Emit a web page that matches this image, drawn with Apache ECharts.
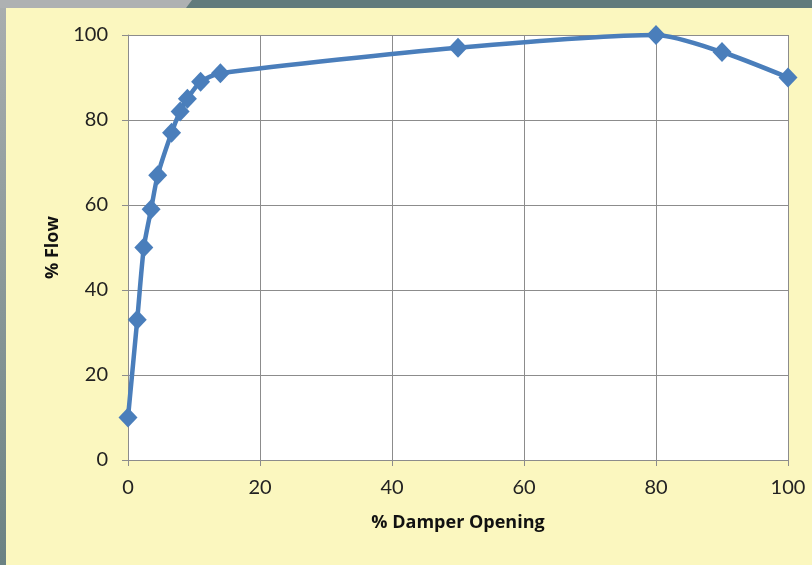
<!DOCTYPE html>
<html>
<head>
<meta charset="utf-8">
<script src="https://cdn.jsdelivr.net/npm/echarts@6/dist/echarts.min.js"></script>
<style>
  html, body { margin: 0; padding: 0; background: #FBF7BF; }
  #chart { width: 812px; height: 565px; }
</style>
</head>
<body>
<div id="chart"></div>
<script>
// Damper characteristic: flow vs. opening
const damperOpening = [0, 1.4, 2.4, 3.5, 4.5, 6.6, 7.9, 9.0, 11, 14, 50, 80, 90, 100];
const flowPercent   = [10, 33, 50, 59, 67, 77, 82, 85, 89, 91, 97, 100, 96, 90];
const xTicks = [0, 20, 40, 60, 80, 100];
const yTicks = [0, 20, 40, 60, 80, 100];

const points = damperOpening.map((x, i) => [x, flowPercent[i]]);
const labelFont = 'Lato, "Open Sans", sans-serif';
const titleFont = '"Open Sans", Lato, sans-serif';

const chart = echarts.init(document.getElementById('chart'));
chart.setOption({
  backgroundColor: '#FBF7BF',
  animation: false,
  graphic: [
    // window frame strips along the top and left edges
    { type: 'rect', shape: { x: 0, y: 0, width: 812, height: 8 }, style: { fill: '#617B7C' }, z: 10 },
    { type: 'polygon', shape: { points: [[0, 0], [192, 0], [186, 8], [0, 8]] }, style: { fill: '#AEB1B2' }, z: 11 },
    {
      type: 'rect', shape: { x: 0, y: 0, width: 6, height: 565 }, z: 10,
      style: {
        fill: new echarts.graphic.LinearGradient(0, 0, 0, 1, [
          { offset: 0, color: '#A9AEAF' },
          { offset: 1, color: '#6B8283' }
        ])
      }
    }
  ],
  grid: { left: 128, right: 24, top: 35, bottom: 105, show: true, backgroundColor: '#FFFFFF', borderWidth: 0 },
  xAxis: {
    type: 'value', min: 0, max: 100, interval: 20,
    name: '% Damper Opening', nameLocation: 'middle', nameGap: 54,
    nameTextStyle: { fontFamily: titleFont, fontSize: 18, fontWeight: 'bold', color: '#111' },
    axisLine: { show: true, lineStyle: { color: '#8C8C8C', width: 1 } },
    axisTick: { show: true, length: 6, lineStyle: { color: '#8C8C8C' } },
    axisLabel: { fontFamily: labelFont, fontSize: 20, color: '#222', margin: 18,
      formatter: v => xTicks.includes(v) ? String(v) : '' },
    splitLine: { show: true, lineStyle: { color: '#8C8C8C', width: 1 } }
  },
  yAxis: {
    type: 'value', min: 0, max: 100, interval: 20,
    name: '% Flow', nameLocation: 'middle', nameGap: 66, nameRotate: 90,
    nameTextStyle: { fontFamily: titleFont, fontSize: 18, fontWeight: 'bold', color: '#111' },
    axisLine: { show: true, lineStyle: { color: '#8C8C8C', width: 1 } },
    axisTick: { show: true, length: 6, lineStyle: { color: '#8C8C8C' } },
    axisLabel: { fontFamily: labelFont, fontSize: 20, color: '#222', margin: 20,
      formatter: v => yTicks.includes(v) ? String(v) : '' },
    splitLine: { show: true, lineStyle: { color: '#8C8C8C', width: 1 } }
  },
  series: [{
    type: 'line',
    data: points,
    smooth: 0.25,
    symbol: 'diamond',
    symbolSize: [19, 20],
    lineStyle: { color: '#4A7EBB', width: 4.5 },
    itemStyle: { color: '#4A7EBB' },
    clip: false
  }]
});
</script>
</body>
</html>
